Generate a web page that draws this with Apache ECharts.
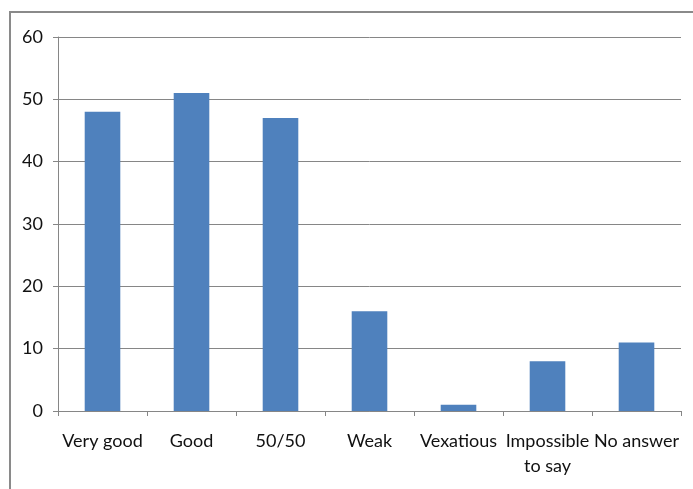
<!DOCTYPE html>
<html>
<head>
<meta charset="utf-8">
<script src="https://cdn.jsdelivr.net/npm/echarts@6/dist/echarts.min.js"></script>
<style>
  html, body { margin: 0; padding: 0; background: #fff; }
  #chart { width: 693px; height: 489px; }
</style>
</head>
<body>
<div id="chart"></div>
<script>
// Survey answers and counts
const categories = ['Very good', 'Good', '50/50', 'Weak', 'Vexatious', 'Impossible\nto say', 'No answer'];
const counts = [48, 51, 47, 16, 1, 8, 11];
const yTicks = { min: 0, max: 60, interval: 10 };

const chart = echarts.init(document.getElementById('chart'), null, { renderer: 'canvas' });

const axisGray = '#868686';
const fontFamily = 'Lato, "Open Sans", sans-serif';

chart.setOption({
  animation: false,
  backgroundColor: '#ffffff',
  grid: { left: 58, right: 12, top: 37, bottom: 78, containLabel: false },
  graphic: [
    {
      type: 'polyline',
      silent: true,
      shape: { points: [[10, 489], [10, 12], [693, 12]] },
      style: { stroke: '#8a8a8a', lineWidth: 2, fill: null }
    }
  ],
  xAxis: {
    type: 'category',
    data: categories,
    axisLine: { show: true, lineStyle: { color: axisGray, width: 1 } },
    axisTick: { show: true, alignWithLabel: false, length: 5, lineStyle: { color: axisGray } },
    axisLabel: {
      color: '#111111',
      fontSize: 18,
      fontFamily: fontFamily,
      margin: 18,
      lineHeight: 25,
      interval: 0
    },
    splitLine: { show: false }
  },
  yAxis: {
    type: 'value',
    min: yTicks.min,
    max: yTicks.max,
    interval: yTicks.interval,
    axisLine: { show: true, lineStyle: { color: axisGray, width: 1 } },
    axisTick: { show: true, length: 5, lineStyle: { color: axisGray } },
    axisLabel: {
      color: '#111111',
      fontSize: 18,
      fontFamily: fontFamily,
      margin: 15
    },
    splitLine: { show: true, lineStyle: { color: axisGray, width: 1 } }
  },
  series: [
    {
      type: 'bar',
      data: counts,
      barCategoryGap: '60%',
      itemStyle: { color: '#4f81bd' }
    }
  ]
});
</script>
</body>
</html>
